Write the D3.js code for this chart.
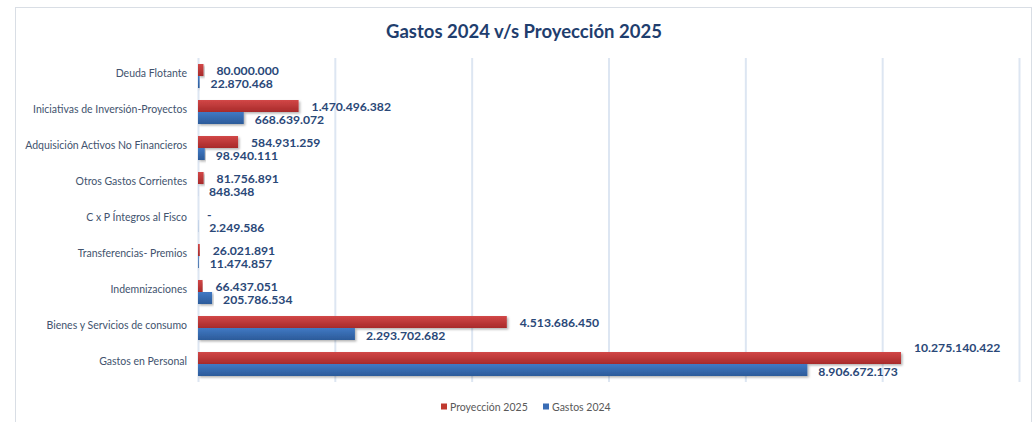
<!DOCTYPE html>
<html>
<head>
<meta charset="utf-8">
<script src="https://cdn.jsdelivr.net/npm/d3@7"></script>
<style>
  html, body { margin: 0; padding: 0; background: #ffffff; }
  svg { display: block; }
</style>
</head>
<body>
<svg id="chart" width="1034" height="422"></svg>
<script>
const categories = [
  "Deuda Flotante",
  "Iniciativas de Inversión-Proyectos",
  "Adquisición Activos No Financieros",
  "Otros Gastos Corrientes",
  "C x P Íntegros al Fisco",
  "Transferencias- Premios",
  "Indemnizaciones",
  "Bienes y Servicios de consumo",
  "Gastos en Personal"
];
const proyeccion2025 = [80000000, 1470496382, 584931259, 81756891, 0, 26021891, 66437051, 4513686450, 10275140422];
const gastos2024 = [22870468, 668639072, 98940111, 848348, 2249586, 11474857, 205786534, 2293702682, 8906672173];
const seriesNames = ["Proyección 2025", "Gastos 2024"];
const xTicks = [0, 2000000000, 4000000000, 6000000000, 8000000000, 10000000000, 12000000000];
const title = "Gastos 2024 v/s Proyección 2025";

const svg = d3.select("#chart");
const plot = { left: 198, right: 1019, top: 58, bottom: 382 };
const seriesColors = { "Proyección 2025": ["#d24747", "#a82b2b"], "Gastos 2024": ["#4179c4", "#2c5b9a"] };
const legendColors = { "Proyección 2025": "#c0392f", "Gastos 2024": "#3a6db5" };

const loc = d3.formatLocale({ decimal: ",", thousands: ".", grouping: [3], currency: ["", ""] });
const fmt = v => v === 0 ? "-" : loc.format(",.0f")(v);

// defs
const defs = svg.append("defs");
Object.entries(seriesColors).forEach(([name, c], i) => {
  const g = defs.append("linearGradient").attr("id", "grad" + i)
    .attr("x1", 0).attr("y1", 0).attr("x2", 0).attr("y2", 1);
  g.append("stop").attr("offset", "0%").attr("stop-color", c[0]);
  g.append("stop").attr("offset", "100%").attr("stop-color", c[1]);
});
const f = defs.append("filter").attr("id", "shadow").attr("x", "-5%").attr("y", "-30%").attr("width", "115%").attr("height", "180%");
f.append("feDropShadow").attr("dx", 1.5).attr("dy", 1.5).attr("stdDeviation", 1).attr("flood-color", "#000").attr("flood-opacity", 0.3);

// chart border
svg.append("rect").attr("x", 15.5).attr("y", 7.5).attr("width", 1016).attr("height", 440)
  .attr("fill", "#fff").attr("stroke", "#d9dee5").attr("stroke-width", 1);

// title
svg.append("text").attr("x", 524).attr("y", 37.5).attr("text-anchor", "middle")
  .attr("font-family", "Lato, 'Open Sans', sans-serif").attr("font-weight", "bold")
  .attr("font-size", 18.5).attr("fill", "#1f3e6e").text(title);

// scales
const x = d3.scaleLinear().domain([0, 12000000000]).range([plot.left, plot.right]);
const y = d3.scaleBand().domain(categories).range([plot.top, plot.bottom])
  .paddingInner(1 / 3).paddingOuter(1 / 6);
const ySub = d3.scaleBand().domain(seriesNames).range([0, y.bandwidth()]);

// gridlines via axis
const gridAxis = d3.axisBottom(x).tickValues(xTicks).tickSize(-(plot.bottom - plot.top)).tickFormat("");
const gGrid = svg.append("g").attr("transform", `translate(0,${plot.bottom})`).call(gridAxis);
gGrid.select(".domain").remove();
gGrid.selectAll(".tick line").attr("stroke", "#dde6f2").attr("stroke-width", 2);

// category labels via axis
const yAxis = d3.axisLeft(y).tickSize(0).tickPadding(11);
const gY = svg.append("g").attr("transform", `translate(${plot.left},0)`).call(yAxis);
gY.select(".domain").remove();
gY.selectAll(".tick text").attr("font-family", "Lato, 'Open Sans', sans-serif")
  .attr("font-size", 10.5).attr("fill", "#42536e").attr("dy", "0.1em");

// bars
const rows = categories.map((c, i) => ({ cat: c, vals: [proyeccion2025[i], gastos2024[i]] }));
const labelNudge = { "Gastos en Personal": [-11, 0] };
const labelOffset = [13, 11];

const gRows = svg.append("g").selectAll("g").data(rows).join("g")
  .attr("transform", d => `translate(0,${y(d.cat)})`);

gRows.selectAll("rect").data(d => d.vals.map((v, i) => ({ v, s: seriesNames[i], i })))
  .join("rect")
  .attr("x", x(0))
  .attr("y", d => ySub(d.s))
  .attr("width", d => Math.max(0, x(d.v) - x(0)))
  .attr("height", ySub.bandwidth())
  .attr("fill", d => `url(#grad${d.i})`)
  .attr("filter", "url(#shadow)");

gRows.selectAll("text").data(d => d.vals.map((v, i) => ({ v, s: seriesNames[i], i, cat: d.cat })))
  .join("text")
  .attr("x", d => x(d.v) + (d.v === 0 ? 9 : labelOffset[d.i]))
  .attr("y", d => ySub(d.s) + ySub.bandwidth() / 2 + (labelNudge[d.cat] ? labelNudge[d.cat][d.i] : 0) + (d.i === 1 ? 1.5 : 0.5))
  .attr("dy", "0.36em")
  .attr("font-family", "Lato, 'Open Sans', sans-serif").attr("font-weight", "bold")
  .attr("font-size", 12.2).attr("fill", "#2a4878")
  .text(d => fmt(d.v));

// legend
const legend = svg.append("g").attr("transform", "translate(441,407)");
const legendX = [0, 102];
seriesNames.forEach((s, i) => {
  const g = legend.append("g").attr("transform", `translate(${legendX[i]},0)`);
  g.append("rect").attr("x", 0).attr("y", -3.5).attr("width", 6).attr("height", 6).attr("fill", legendColors[s]);
  g.append("text").attr("x", 9).attr("y", 0).attr("dy", "0.35em")
    .attr("font-family", "Lato, 'Open Sans', sans-serif").attr("font-size", 10.5)
    .attr("fill", "#595959").text(s);
});
</script>
</body>
</html>
